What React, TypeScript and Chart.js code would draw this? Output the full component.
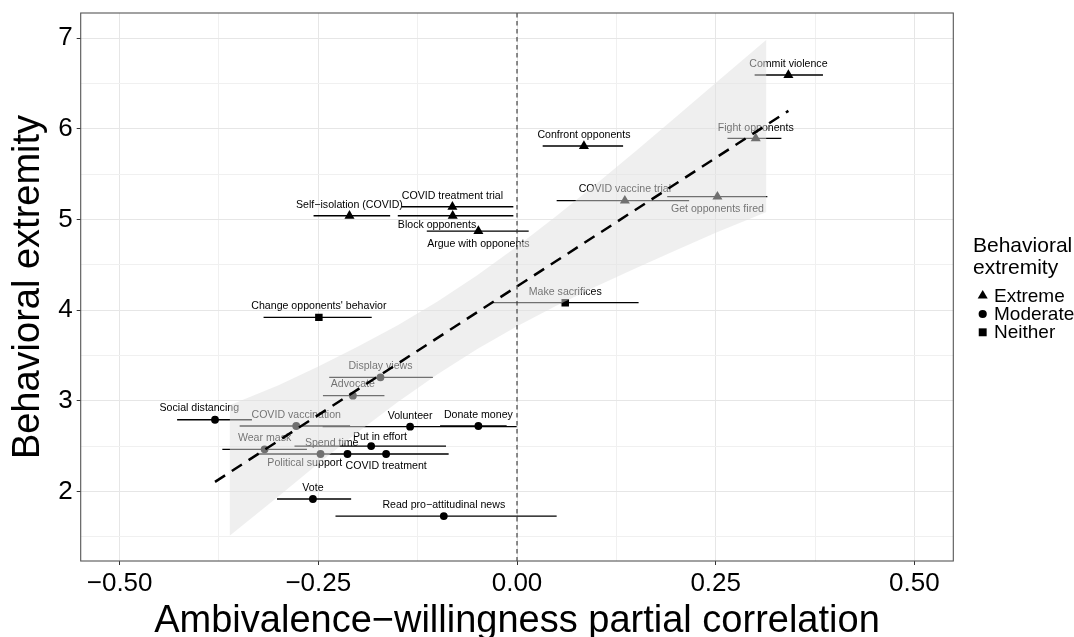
import React, { useEffect, useRef } from 'react';
import { Chart, registerables } from 'chart.js';

Chart.register(...registerables);

const FONT = "'Liberation Sans', Arial, Helvetica, sans-serif";

// ---------- data ----------
const behaviors = [
  'Commit violence',
  'Fight opponents',
  'Confront opponents',
  'COVID vaccine trial',
  'Get opponents fired',
  'COVID treatment trial',
  'Block opponents',
  'Argue with opponents',
  'Self\u2212isolation (COVID)',
  'Make sacrifices',
  "Change opponents' behavior",
  'Display views',
  'Advocate',
  'Social distancing',
  'COVID vaccination',
  'Volunteer',
  'Donate money',
  'Wear mask',
  'Spend time',
  'Political support',
  'Put in effort',
  'COVID treatment',
  'Vote',
  'Read pro\u2212attitudinal news',
];

const partialCorr = [
  0.3415, 0.3004, 0.0842, 0.1357, 0.2522, -0.0813, -0.0809, -0.0486, -0.2108,
  0.0607, -0.2493,
  -0.1718, -0.2065, -0.38, -0.2778, -0.1345, -0.0486, -0.3176, -0.2133, -0.2472,
  -0.1835, -0.1647, -0.2568, -0.0921,
];

const extremity = [
  6.592, 5.894, 5.809, 5.206, 5.25, 5.139, 5.04, 4.871, 5.04,
  4.081, 3.919,
  3.258, 3.055, 2.79, 2.721, 2.713, 2.721, 2.464, 2.412, 2.412,
  2.5, 2.412, 1.916, 1.728,
];

const ciLow = [
  0.299, 0.2648, 0.0323, 0.0499, 0.189, -0.145, -0.15, -0.1135, -0.256,
  -0.0298, -0.3189,
  -0.2363, -0.2442, -0.4277, -0.349, -0.2446, -0.0968, -0.3708, -0.29, -0.327,
  -0.28, -0.245, -0.302, -0.2284,
];

const ciHigh = [
  0.385, 0.3327, 0.1335, 0.2166, 0.315, -0.0046, -0.0046, 0.0147, -0.1596,
  0.153, -0.1828,
  -0.106, -0.1668, -0.3335, -0.21, -0.0004, -0.013, -0.2643, -0.135, -0.167,
  -0.0893, -0.086, -0.2087, 0.0499,
];

const category = [
  'Extreme', 'Extreme', 'Extreme', 'Extreme', 'Extreme', 'Extreme', 'Extreme', 'Extreme', 'Extreme',
  'Neither', 'Neither',
  'Moderate', 'Moderate', 'Moderate', 'Moderate', 'Moderate', 'Moderate', 'Moderate', 'Moderate', 'Moderate',
  'Moderate', 'Moderate', 'Moderate', 'Moderate',
];

const legendCategories = ['Extreme', 'Moderate', 'Neither'];

// fitted line and its confidence band
const regLineX = [-0.38, 0.3415];
const regLineY = [2.105, 6.197];

const ribbonX = [-0.3616, -0.3, -0.25, -0.2, -0.15, -0.1, -0.05, 0, 0.05, 0.1, 0.15, 0.2, 0.25, 0.3139];
const ribbonLow = [1.51, 1.945, 2.306, 2.655, 2.985, 3.292, 3.569, 3.82, 4.049, 4.262, 4.464, 4.66, 4.851, 5.08];
const ribbonHigh = [2.95, 3.171, 3.378, 3.597, 3.833, 4.094, 4.384, 4.70, 5.039, 5.393, 5.757, 6.129, 6.505, 6.98];

const zeroLine = 0;

// ---------- styling (pixel offsets of the repelled labels) ----------
const labelOffsets: [number, number][] = [
  [0, -10.5], [0, -10], [0, -10.7], [0, -11.3], [0, 12.6], [0, -11], [-15.7, 9.6], [0, 13], [0, -10.4],
  [0, -10.7], [0, -11.3],
  [0, -11.3], [0, -11.4], [-15.7, -11.4], [0, -11], [0, -11], [0, -11], [0, -11], [-15.8, -10.7], [-15.8, 9],
  [8.7, -8.7], [0, 12], [0, -11.3], [0, -11.3],
];

const shapeOf: Record<string, string> = { Extreme: 'triangle', Moderate: 'circle', Neither: 'rect' };
const radiusOf: Record<string, number> = { Extreme: 5.8, Moderate: 3.9, Neither: 5.3 };

const isMajorX = (v: number) => Math.abs(v * 4 - Math.round(v * 4)) < 1e-6;
const isMajorY = (v: number) => Math.abs(v - Math.round(v)) < 1e-6;
const fmtX = (v: number) => (v < -1e-9 ? '\u2212' : '') + Math.abs(v).toFixed(2);

function drawMarker(c: CanvasRenderingContext2D, kind: string, x: number, y: number, r: number) {
  c.beginPath();
  if (kind === 'triangle') {
    c.moveTo(x, y - r);
    c.lineTo(x + r * Math.sin((2 * Math.PI) / 3), y + r / 2);
    c.lineTo(x - r * Math.sin((2 * Math.PI) / 3), y + r / 2);
    c.closePath();
  } else if (kind === 'circle') {
    c.arc(x, y, r, 0, Math.PI * 2);
  } else {
    const s = r * Math.SQRT1_2;
    c.rect(x - s, y - s, 2 * s, 2 * s);
  }
  c.fill();
}

const labelsPlugin = {
  id: 'pointLabels',
  beforeDatasetsDraw(chart: any) {
    const { ctx, chartArea, scales } = chart;
    ctx.save();
    ctx.beginPath();
    ctx.rect(chartArea.left, chartArea.top, chartArea.right - chartArea.left, chartArea.bottom - chartArea.top);
    ctx.clip();
    ctx.font = `10.6px ${FONT}`;
    ctx.fillStyle = '#000';
    ctx.textAlign = 'center';
    ctx.textBaseline = 'middle';
    behaviors.forEach((b, i) => {
      const px = scales.x.getPixelForValue(partialCorr[i]) + labelOffsets[i][0];
      const py = scales.y.getPixelForValue(extremity[i]) + labelOffsets[i][1];
      ctx.fillText(b, px, py);
    });
    ctx.restore();
  },
  afterDatasetsDraw(chart: any) {
    const { ctx, chartArea, scales } = chart;
    const px = scales.x.getPixelForValue(zeroLine);
    ctx.save();
    ctx.strokeStyle = '#333';
    ctx.lineWidth = 1.1;
    ctx.setLineDash([4.5, 3.5]);
    ctx.beginPath();
    ctx.moveTo(px, chartArea.top);
    ctx.lineTo(px, chartArea.bottom);
    ctx.stroke();
    ctx.restore();
  },
  afterDraw(chart: any) {
    const { ctx, chartArea } = chart;
    ctx.save();
    ctx.strokeStyle = '#555';
    ctx.lineWidth = 1.1;
    ctx.strokeRect(chartArea.left, chartArea.top, chartArea.right - chartArea.left, chartArea.bottom - chartArea.top);

    // legend
    ctx.fillStyle = '#000';
    ctx.textAlign = 'left';
    ctx.textBaseline = 'alphabetic';
    ctx.font = `21px ${FONT}`;
    ctx.fillText('Behavioral', 973, 251.7);
    ctx.fillText('extremity', 973, 274);
    ctx.font = `19px ${FONT}`;
    const legendR: Record<string, number> = { Extreme: 5.8, Moderate: 4.1, Neither: 5.6 };
    legendCategories.forEach((name, i) => {
      const base = 301.7 + i * 18.3;
      drawMarker(ctx, shapeOf[name], 982.7, base - 6, legendR[name]);
      ctx.fillText(name, 994, base);
    });
    ctx.restore();
  },
};

export default function App() {
  const ref = useRef<HTMLCanvasElement>(null);

  useEffect(() => {
    if (!ref.current) return;
    const points = behaviors.map((_, i) => ({ x: partialCorr[i], y: extremity[i] }));
    const ciData: any[] = [];
    behaviors.forEach((_, i) => {
      ciData.push({ x: ciLow[i], y: extremity[i] });
      ciData.push({ x: ciHigh[i], y: extremity[i] });
      ciData.push({ x: ciHigh[i], y: null });
    });
    const lowData = ribbonX.map((x, i) => ({ x, y: ribbonLow[i] }));
    const highData = ribbonX.map((x, i) => ({ x, y: ribbonHigh[i] }));
    const regData = regLineX.map((x, i) => ({ x, y: regLineY[i] }));

    const chart = new Chart(ref.current, {
      type: 'scatter',
      data: {
        datasets: [
          {
            type: 'line',
            label: 'CI',
            data: ciData,
            borderColor: '#000',
            borderWidth: 1.3,
            pointRadius: 0,
            spanGaps: false,
            fill: false,
            tension: 0,
            order: 4,
          } as any,
          {
            type: 'scatter',
            label: 'behaviors',
            data: points,
            pointStyle: (c: any) => shapeOf[category[c.dataIndex]] as any,
            pointRadius: (c: any) => radiusOf[category[c.dataIndex]],
            pointBackgroundColor: '#000',
            pointBorderWidth: 0,
            pointBorderColor: 'rgba(0,0,0,0)',
            order: 3,
          } as any,
          {
            type: 'line',
            label: 'band low',
            data: lowData,
            borderColor: 'rgba(0,0,0,0)',
            borderWidth: 0,
            pointRadius: 0,
            fill: false,
            order: 2,
          } as any,
          {
            type: 'line',
            label: 'band high',
            data: highData,
            borderColor: 'rgba(0,0,0,0)',
            borderWidth: 0,
            pointRadius: 0,
            fill: '-1',
            backgroundColor: 'rgba(223,223,223,0.5)',
            order: 1,
          } as any,
          {
            type: 'line',
            label: 'fit',
            data: regData,
            borderColor: '#000',
            borderWidth: 2.5,
            borderDash: [12, 8],
            pointRadius: 0,
            fill: false,
            order: 0,
          } as any,
        ],
      },
      options: {
        animation: false,
        responsive: false,
        devicePixelRatio: 1,
        events: [],
        layout: { padding: { top: 13, right: 120.7, left: 0, bottom: 0 } },
        plugins: { legend: { display: false }, tooltip: { enabled: false } },
        scales: {
          x: {
            type: 'linear',
            min: -0.549,
            max: 0.549,
            afterFit: (s: any) => {
              s.height = 76;
              s.paddingLeft = 0;
              s.paddingRight = 0;
            },
            ticks: {
              stepSize: 0.125,
              includeBounds: false,
              autoSkip: false,
              maxRotation: 0,
              padding: 3,
              color: '#000',
              font: { family: FONT, size: 26 },
              callback: (v: any) => (isMajorX(Number(v)) ? fmtX(Number(v)) : ''),
            },
            grid: {
              color: (c: any) => (c.tick && isMajorX(c.tick.value) ? '#E6E6E6' : '#F0F0F0'),
              lineWidth: 1,
              drawTicks: true,
              tickLength: 4,
              tickWidth: 1,
              tickColor: (c: any) => (c.tick && isMajorX(c.tick.value) ? '#333' : 'rgba(0,0,0,0)'),
            },
            border: { display: false },
            title: {
              display: true,
              text: 'Ambivalence\u2212willingness partial correlation',
              color: '#000',
              font: { family: FONT, size: 38, lineHeight: 0.84 },
              padding: { top: 0, bottom: 0 },
            },
          },
          y: {
            type: 'linear',
            min: 1.232,
            max: 7.276,
            afterFit: (s: any) => {
              s.width = 80.7;
              s.paddingTop = 0;
              s.paddingBottom = 0;
            },
            ticks: {
              stepSize: 0.5,
              includeBounds: false,
              autoSkip: false,
              padding: 4,
              color: '#000',
              font: { family: FONT, size: 26 },
              callback: (v: any) => (isMajorY(Number(v)) ? String(Math.round(Number(v))) : ''),
            },
            grid: {
              color: (c: any) => (c.tick && isMajorY(c.tick.value) ? '#E6E6E6' : '#F0F0F0'),
              lineWidth: 1,
              drawTicks: true,
              tickLength: 4,
              tickWidth: 1,
              tickColor: (c: any) => (c.tick && isMajorY(c.tick.value) ? '#333' : 'rgba(0,0,0,0)'),
            },
            border: { display: false },
            title: {
              display: true,
              text: 'Behavioral extremity',
              color: '#000',
              font: { family: FONT, size: 38, lineHeight: 1.2 },
              padding: { top: 6, bottom: 0 },
            },
          },
        },
      } as any,
      plugins: [labelsPlugin],
    });
    return () => chart.destroy();
  }, []);

  return (
    <div style={{ position: 'fixed', left: 0, top: 0, width: 1074, height: 637, background: '#fff' }}>
      <canvas ref={ref} width={1074} height={637} style={{ display: 'block', width: 1074, height: 637 }} />
    </div>
  );
}
